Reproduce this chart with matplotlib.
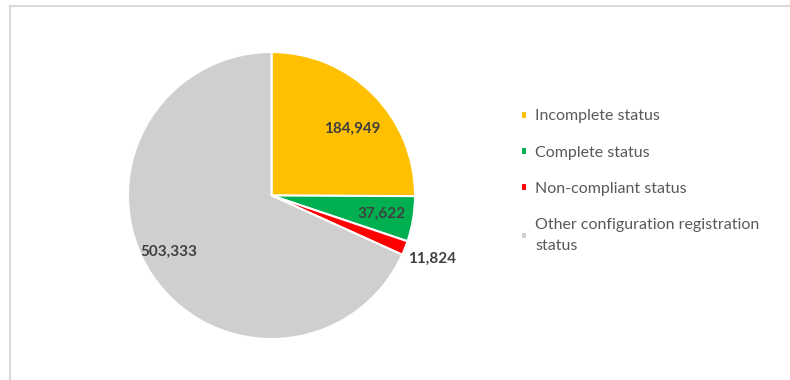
import numpy as np
import matplotlib.pyplot as plt
from matplotlib.patches import Rectangle

plt.rcParams['font.family'] = ['Lato', 'DejaVu Sans']

labels = ['Incomplete status', 'Complete status', 'Non-compliant status',
          'Other configuration registration\nstatus']
values = [184949, 37622, 11824, 503333]
colors = ['#FFC000', '#00B050', '#FF0000', '#D0CECE']
# value label placement: radius fraction and angle shift from slice middle
label_r = [0.73, 0.78, 1.2, 0.82]
label_dang = [-5, 0, 0, -4]

W, H = 790, 380
fig = plt.figure(figsize=(W / 100, H / 100), dpi=100)

# chart area frame (runs off the right/bottom edge)
fig.patches.append(Rectangle((10 / W, -0.1), 1.2, (H - 6) / H + 0.1,
                             transform=fig.transFigure, fill=False,
                             edgecolor='#d9d9d9', linewidth=1.5))

cx, cy, r = 271.5, 195.5, 143.5
ax = fig.add_axes([(cx - r) / W, (H - cy - r) / H, 2 * r / W, 2 * r / H])
wedges, _ = ax.pie(values, colors=colors, startangle=90, counterclock=False,
                   radius=1, wedgeprops=dict(edgecolor='white', linewidth=1.5))
ax.set_xlim(-1, 1)
ax.set_ylim(-1, 1)
ax.set_aspect('equal')
ax.axis('off')

for w, v, lr, da in zip(wedges, values, label_r, label_dang):
    mid = np.deg2rad((w.theta1 + w.theta2) / 2 + da)
    ax.text(lr * np.cos(mid), lr * np.sin(mid), f'{v:,}', ha='center',
            va='center', fontsize=11, fontweight='bold', color='#404040')

leg = fig.legend(wedges, labels, loc='upper left',
                 bbox_to_anchor=(507 / W, 1 - 95 / H), frameon=False,
                 fontsize=11.5, labelcolor='#595959', handlelength=0.38,
                 handleheight=0.38, handletextpad=0.5, labelspacing=1.4)
for t in leg.get_texts():
    t.set_linespacing(1.6)

fig.savefig('out.png', dpi=100)
